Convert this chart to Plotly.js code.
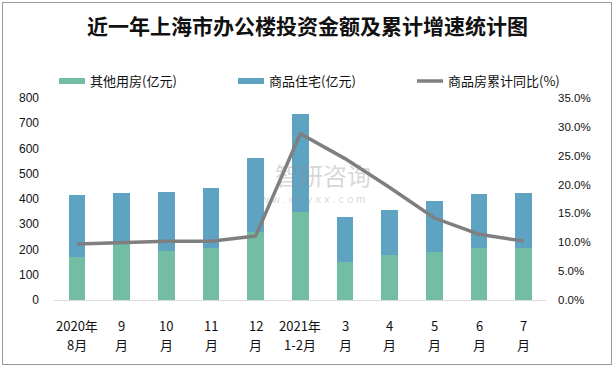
<!DOCTYPE html>
<html>
<head>
<meta charset="utf-8">
<script src="https://cdn.plot.ly/plotly-3.0.1.min.js"></script>
<style>
  html, body { margin: 0; padding: 0; background: #fff; }
  #wrap { position: relative; width: 615px; height: 368px; }
  #chart { position: absolute; left: 0; top: 0; width: 615px; height: 368px; }
  #frame { position: absolute; left: 2px; top: 2px; width: 608px; height: 361px; border: 1px solid #9a9a9a; pointer-events: none; }
</style>
</head>
<body>
<div id="wrap"><div id="chart"></div><div id="frame"></div></div>
<script>
// ---- data ----
const categories   = ["2020年8月", "9月", "10月", "11月", "12月", "2021年1-2月", "3月", "4月", "5月", "6月", "7月"];
const tickTop      = ["2020年", "9", "10", "11", "12", "2021年", "3", "4", "5", "6", "7"];
const tickBottom   = ["8月", "月", "月", "月", "月", "1-2月", "月", "月", "月", "月", "月"];
const otherHousing = [171, 224, 194, 207, 269, 348, 150, 178, 190, 206, 206];       // 其他用房(亿元)
const residential  = [245, 200, 234, 237, 293, 389, 179, 178, 202, 214, 218];       // 商品住宅(亿元)
const yoyGrowth    = [9.7, 10.0, 10.2, 10.2, 11.1, 28.8, 24.5, 19.5, 14.2, 11.4, 10.2]; // 商品房累计同比(%)
const seriesNames  = ["其他用房(亿元)", "商品住宅(亿元)", "商品房累计同比(%)"];
const seriesColors = ["#72bda3", "#5fa3c3", "#7f7f7f"];
const titleText    = "近一年上海市办公楼投资金额及累计增速统计图";

const cjk = '"Noto Sans CJK SC", "Liberation Sans", sans-serif';
const num = '"Liberation Sans", Arial, sans-serif';

// plot-area geometry (px) used to place the hand-drawn legend
const W = 615, H = 368, ML = 54, MR = 69, MT = 98, MB = 68;
const PW = W - ML - MR, PH = H - MT - MB;
const px2x = p => (p - ML) / PW;
const py2y = p => (H - MB - p) / PH;

const traces = [
  { type: 'bar', name: seriesNames[0], x: categories, y: otherHousing,
    marker: { color: seriesColors[0] }, yaxis: 'y', hoverinfo: 'skip' },
  { type: 'bar', name: seriesNames[1], x: categories, y: residential,
    marker: { color: seriesColors[1] }, yaxis: 'y', hoverinfo: 'skip' },
  { type: 'scatter', mode: 'lines', name: seriesNames[2], x: categories, y: yoyGrowth,
    line: { color: seriesColors[2], width: 3.5 }, yaxis: 'y2', hoverinfo: 'skip' }
];

// legend (drawn by hand to match the reference's wide swatches)
const legendX = [59, 238, 417];
const legendY = 81;
const shapes = [];
const annotations = [];
legendX.forEach((lx, i) => {
  if (i < 2) {
    shapes.push({ type: 'rect', xref: 'paper', yref: 'paper',
      x0: px2x(lx), x1: px2x(lx + 26), y0: py2y(legendY + 3), y1: py2y(legendY - 3),
      fillcolor: seriesColors[i], line: { width: 0 } });
  } else {
    shapes.push({ type: 'line', xref: 'paper', yref: 'paper',
      x0: px2x(lx), x1: px2x(lx + 26), y0: py2y(legendY), y1: py2y(legendY),
      line: { color: seriesColors[i], width: 3.5 } });
  }
  annotations.push({ text: seriesNames[i], xref: 'paper', yref: 'paper',
    x: px2x(lx + 29), y: py2y(legendY), xanchor: 'left', yanchor: 'middle', showarrow: false,
    font: { family: cjk, size: 13, color: '#111' } });
});

// two-line category labels
categories.forEach((c, i) => {
  annotations.push({ text: tickTop[i], xref: 'x', yref: 'paper', x: c, y: 0, yshift: -25,
    xanchor: 'center', yanchor: 'middle', showarrow: false, font: { family: cjk, size: 13, color: '#111' } });
  annotations.push({ text: tickBottom[i], xref: 'x', yref: 'paper', x: c, y: 0, yshift: -44,
    xanchor: 'center', yanchor: 'middle', showarrow: false, font: { family: cjk, size: 13, color: '#111' } });
});

// watermark
annotations.push({ text: '智研咨询', xref: 'paper', yref: 'paper', x: px2x(323), y: py2y(174),
  xanchor: 'center', yanchor: 'middle', showarrow: false,
  font: { family: cjk, size: 24, color: 'rgba(140,140,140,0.35)' } });
annotations.push({ text: 'w w w . c h y x x . c o m', xref: 'paper', yref: 'paper', x: px2x(307), y: py2y(199),
  xanchor: 'center', yanchor: 'middle', showarrow: false,
  font: { family: num, size: 11, color: 'rgba(140,140,140,0.35)' } });

const layout = {
  width: W, height: H,
  margin: { l: ML, r: MR, t: MT, b: MB },
  paper_bgcolor: '#ffffff', plot_bgcolor: '#ffffff',
  barmode: 'stack', bargap: 0.62,
  showlegend: false,
  title: { text: titleText, font: { family: cjk, size: 21, color: '#111', weight: 'bold' },
           x: 0.5, xanchor: 'center', y: 1 - 27/368, yref: 'container', yanchor: 'middle' },
  xaxis: { type: 'category', showgrid: false, zeroline: false, showline: true,
           linecolor: '#d9d9d9', linewidth: 1, ticks: '', showticklabels: false, fixedrange: true },
  yaxis: { range: [0, 800], dtick: 100, showgrid: false, zeroline: false, showline: false,
           ticks: '', ticklen: 0, ticklabelstandoff: 14,
           tickfont: { family: num, size: 12, color: '#111' }, fixedrange: true },
  yaxis2: { range: [0, 35], dtick: 5, overlaying: 'y', side: 'right', showgrid: false,
            zeroline: false, showline: false, ticks: '', ticklen: 0, ticklabelstandoff: 11,
            tickformat: '.1f', ticksuffix: '%',
            tickfont: { family: num, size: 11.5, color: '#111' }, fixedrange: true },
  shapes: shapes,
  annotations: annotations
};

Plotly.newPlot('chart', traces, layout, { displayModeBar: false, staticPlot: true });
</script>
</body>
</html>
